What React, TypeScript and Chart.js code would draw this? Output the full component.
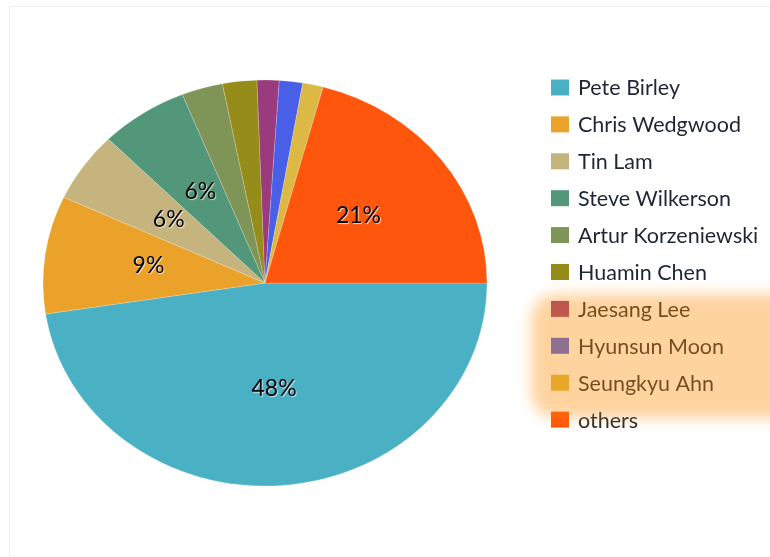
import React, { useEffect, useRef } from "react";
import { Chart, registerables } from "chart.js";

Chart.register(...registerables);

const labels = [
  "Pete Birley",
  "Chris Wedgwood",
  "Tin Lam",
  "Steve Wilkerson",
  "Artur Korzeniewski",
  "Huamin Chen",
  "Jaesang Lee",
  "Hyunsun Moon",
  "Seungkyu Ahn",
  "others",
];
const values = [47.6, 9.4, 5.6, 6.4, 3.0, 2.5, 1.6, 1.7, 1.5, 20.8];
const colors = [
  "#4ab1c5",
  "#eaa22b",
  "#c6b47e",
  "#53977a",
  "#7f9558",
  "#968c1a",
  "#993b7c",
  "#4a5fe8",
  "#dbb944",
  "#ff560d",
];

const W = 770;
const H = 557;
const RX = 222;
const RY = 203;
const LABEL_R = 0.53;
const FONT = "Lato, 'Open Sans', sans-serif";

const ellipsePlugin = {
  id: "ellipse",
  beforeDatasetsDraw(chart: any) {
    const arc = chart.getDatasetMeta(0).data[0];
    if (!arc) return;
    const ctx = chart.ctx;
    ctx.save();
    ctx.translate(arc.x, arc.y);
    ctx.scale(1, RY / RX);
    ctx.translate(-arc.x, -arc.y);
  },
  afterDatasetsDraw(chart: any) {
    if (!chart.getDatasetMeta(0).data[0]) return;
    chart.ctx.restore();
  },
};

const labelPlugin = {
  id: "pctLabels",
  afterDraw(chart: any) {
    const ctx = chart.ctx;
    const meta = chart.getDatasetMeta(0);
    const data = chart.data.datasets[0].data as number[];
    const total = data.reduce((a, b) => a + b, 0);
    ctx.save();
    ctx.font = `23px ${FONT}`;
    ctx.textAlign = "center";
    ctx.textBaseline = "middle";
    meta.data.forEach((arc: any, i: number) => {
      const pct = (data[i] / total) * 100;
      if (pct < 5) return;
      const mid = (arc.startAngle + arc.endAngle) / 2;
      const x = arc.x + Math.cos(mid) * RX * LABEL_R;
      const y = arc.y + Math.sin(mid) * RY * LABEL_R - 2;
      ctx.shadowColor = "rgba(255,255,255,0.7)";
      ctx.shadowOffsetX = 1;
      ctx.shadowOffsetY = 1;
      ctx.shadowBlur = 1;
      ctx.fillStyle = "#000";
      ctx.fillText(`${Math.round(pct)}%`, x, y);
    });
    ctx.restore();
  },
};

const legendPlugin = {
  id: "sideLegend",
  afterDraw(chart: any) {
    const ctx = chart.ctx;
    const ds = chart.data.datasets[0];
    const startY = 87.5;
    const step = 36.9;
    ctx.save();
    ctx.font = `21.5px ${FONT}`;
    ctx.textBaseline = "middle";
    ctx.textAlign = "left";
    (chart.data.labels as string[]).forEach((lab, i) => {
      const cy = startY + i * step;
      ctx.fillStyle = (ds.backgroundColor as string[])[i];
      ctx.fillRect(551, cy - 8, 18, 16);
      ctx.fillStyle = "#1f2633";
      ctx.fillText(lab, 578, cy + 1);
    });
    ctx.restore();
  },
};

export default function App() {
  const ref = useRef<HTMLCanvasElement>(null);
  useEffect(() => {
    if (!ref.current) return;
    const chart = new Chart(ref.current, {
      type: "pie",
      data: {
        labels,
        datasets: [
          {
            data: values,
            backgroundColor: colors,
            borderColor: "rgba(255,255,255,0.2)",
            borderWidth: 1,
            radius: RX,
          } as any,
        ],
      },
      options: {
        responsive: false,
        animation: false,
        rotation: 90,
        layout: { padding: { left: 0, right: W - 530, top: 9, bottom: 0 } },
        plugins: {
          legend: { display: false },
          tooltip: { enabled: false },
        },
        events: [],
      },
      plugins: [ellipsePlugin, labelPlugin, legendPlugin],
    });
    return () => chart.destroy();
  }, []);
  return (
    <div style={{ position: "fixed", left: 0, top: 0, width: W, height: H, background: "#fff", overflow: "hidden" }}>
      <div
        style={{
          position: "absolute",
          left: 9,
          top: 6,
          width: W,
          height: H,
          borderLeft: "1px solid #efefef",
          borderTop: "1px solid #efefef",
        }}
      />
      <canvas ref={ref} width={W} height={H} style={{ position: "absolute", left: 0, top: 0, width: W, height: H }} />
      <div
        style={{
          position: "absolute",
          left: 531,
          top: 294,
          width: 290,
          height: 124,
          borderRadius: 26,
          background: "rgba(255,140,0,0.38)",
          filter: "blur(7px)",
          pointerEvents: "none",
        }}
      />
    </div>
  );
}
